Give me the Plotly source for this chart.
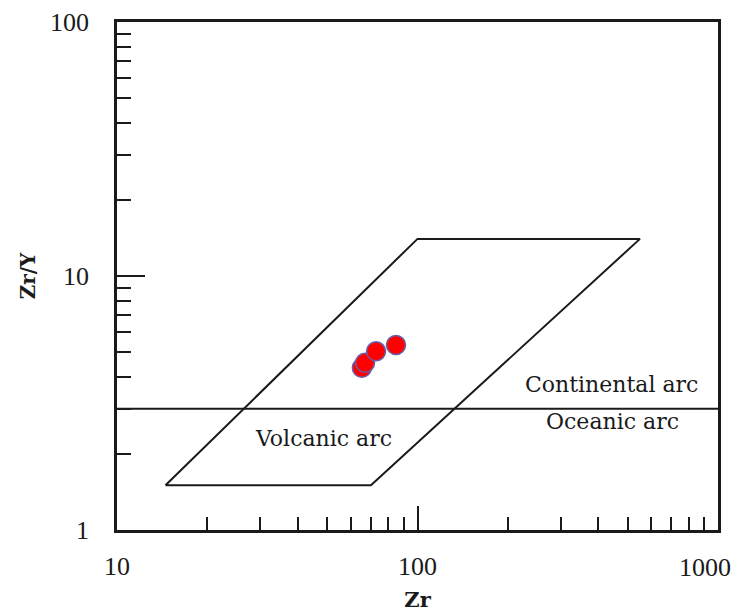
import plotly.graph_objects as go

# Sample data (Zr ppm, Zr/Y)
zr = [65.3, 66.9, 72.8, 84.8]
zr_y = [4.35, 4.55, 5.05, 5.35]

# Volcanic arc field polygon (Zr, Zr/Y)
field_zr = [14.5, 70.0, 550.0, 100.0, 14.5]
field_zry = [1.5, 1.5, 14.0, 14.0, 1.5]

# Continental / oceanic arc divider
divider_zr = [10, 1000]
divider_zry = [3.0, 3.0]

x_major = [10, 100, 1000]
x_major_text = ["10", "100", ""]
x_last_label = "1000"
x_minor = [20, 30, 40, 50, 60, 70, 80, 90, 200, 300, 400, 500, 600, 700, 800, 900]
y_major = [1, 10, 100]
y_minor = [2, 3, 4, 5, 6, 7, 8, 9, 20, 30, 40, 50, 60, 70, 80, 90]

serif = "Liberation Serif, Times New Roman, serif"
wserif = "DejaVu Serif, serif"
ink = "#1a1a1a"

fig = go.Figure()
fig.add_trace(go.Scatter(x=field_zr, y=field_zry, mode="lines",
                         line=dict(color=ink, width=2), hoverinfo="skip", showlegend=False))
fig.add_trace(go.Scatter(x=divider_zr, y=divider_zry, mode="lines",
                         line=dict(color=ink, width=2), hoverinfo="skip", showlegend=False))
fig.add_trace(go.Scatter(x=zr, y=zr_y, mode="markers",
                         marker=dict(color="#ff0000", size=19,
                                     line=dict(color="#6a5fa8", width=1.5)),
                         showlegend=False))

fig.add_annotation(x=2.647, y=0.572, xref="x", yref="y", text="Continental arc",
                   showarrow=False, font=dict(family=wserif, size=22, color=ink))
fig.add_annotation(x=2.65, y=0.428, xref="x", yref="y", text="Oceanic arc",
                   showarrow=False, font=dict(family=wserif, size=22, color=ink))
fig.add_annotation(x=1.686, y=0.362, xref="x", yref="y", text="Volcanic arc",
                   showarrow=False, font=dict(family=wserif, size=22, color=ink))
# last x tick label, pulled inside the page like in the original
fig.add_annotation(x=1, y=0, xref="paper", yref="paper", xanchor="right", yanchor="middle",
                   xshift=15, yshift=-37, text=x_last_label, showarrow=False,
                   font=dict(family=serif, size=26, color=ink))

fig.update_xaxes(type="log", range=[1.0, 3.0], showgrid=False, zeroline=False, automargin=False,
                 showline=True, linecolor=ink, linewidth=2.5, mirror=True,
                 ticks="inside", ticklen=24, tickwidth=1.5, tickcolor=ink,
                 tickmode="array", tickvals=x_major, ticktext=x_major_text,
                 ticklabelstandoff=11,
                 minor=dict(ticks="inside", ticklen=13, tickwidth=1.5, tickcolor=ink,
                            tickmode="array", tickvals=x_minor, showgrid=False),
                 tickfont=dict(family=serif, size=26, color=ink),
                 title=dict(text="<b>Zr</b>", font=dict(family=wserif, size=21, color=ink), standoff=15))
fig.update_yaxes(type="log", range=[0, 2], showgrid=False, zeroline=False, automargin=False,
                 showline=True, linecolor=ink, linewidth=2.5, mirror=True,
                 ticks="inside", ticklen=28, tickwidth=1.5, tickcolor=ink,
                 tickmode="array", tickvals=y_major, ticktext=[str(v) for v in y_major],
                 ticklabelstandoff=20, ticklabeloverflow="allow",
                 minor=dict(ticks="inside", ticklen=14, tickwidth=1.5, tickcolor=ink,
                            tickmode="array", tickvals=y_minor, showgrid=False),
                 tickfont=dict(family=serif, size=26, color=ink),
                 title=dict(text="<b>Zr/Y</b>", font=dict(family=wserif, size=20, color=ink), standoff=10))

fig.update_layout(width=737, height=612, margin=dict(l=117, r=19, t=22, b=82),
                  plot_bgcolor="white", paper_bgcolor="white")
fig.write_html("out.html", config={"displayModeBar": False},
               post_script="document.body.style.margin='0';")
